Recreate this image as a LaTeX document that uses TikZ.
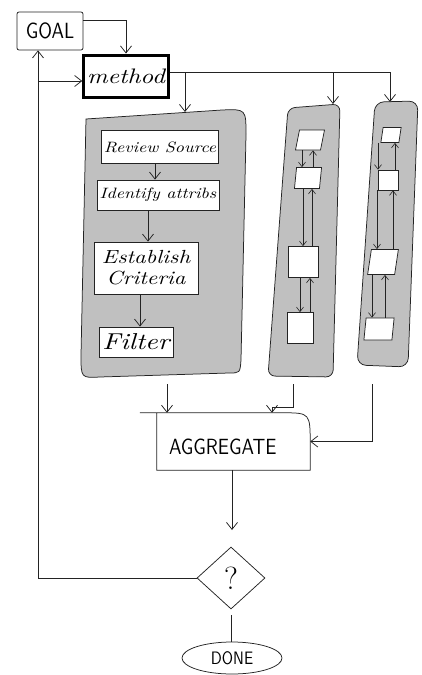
\documentclass[tikz,border=0pt]{standalone}
\usepackage{fontspec}
\usetikzlibrary{arrows.meta,shapes.geometric}
% a widened italic for the hand-lettered step names
\newfontfamily\handfont{lmroman10-italic.otf}[FakeStretch=1.2]
% narrow sans capitals for the block titles
\newfontfamily\capsfont{lmsans10-regular.otf}[FakeStretch=0.85]
\definecolor{panelgray}{RGB}{192,192,192}
\definecolor{ink}{RGB}{35,35,35}
\tikzset{
  ink line/.style={draw=ink, line width=0.75pt},
  arr/.style={ink line, -{Straight Barb[length=7pt,width=11pt]}},
  sarr/.style={ink line, line width=0.6pt, -{Straight Barb[length=4.5pt,width=7pt]}},
  panel/.style={ink line, fill=panelgray},
  task/.style={ink line, fill=white, inner sep=2pt, font=\handfont\fontsize{15}{17}\selectfont},
  cell/.style={ink line, fill=white, inner sep=0pt},
}
% a pair of opposite arrows between two stacked cells
\newcommand\twoway[4]{%
  \draw[sarr] (#1.south -| #3,0) -- (#2.north -| #3,0);
  \draw[sarr] (#2.north -| #4,0) -- (#1.south -| #4,0);}
\begin{document}
\begin{tikzpicture}[x=1pt,y=-1pt]
\useasboundingbox (0,0) rectangle (422,675);

% goal and method
\node[ink line, minimum width=66pt, minimum height=38pt, rounded corners=2pt,
      font=\capsfont\fontsize{22}{24}\selectfont] (goal) at (50,31) {GOAL};
\node[draw=black, line width=3pt, minimum width=84pt, minimum height=42pt,
      font=\handfont\fontsize{21}{24}\selectfont] (method) at (126,76) {method};

% the three gray panels
\path[panel] (86,119) -- (222,110) .. controls (246,109) .. (246,135)
  -- (241,360) .. controls (240,373) .. (229,373) -- (100,377)
  .. controls (81,378) .. (81,355) -- cycle;
\path[panel, rounded corners=7pt] (288,108) -- (340,104) -- (333,377) -- (268,376) -- cycle;
\path[panel, rounded corners=9pt] (375,102) -- (418,101) -- (408,367) -- (357,365) -- cycle;

\coordinate (bigtop) at (185,112);
\coordinate (midtop) at (333,104);
\coordinate (rghttop) at (390,102);
\coordinate (bigout) at (167,384);
\coordinate (midout) at (293,384);
\coordinate (rghtout) at (372,384);

% steps in the large panel
\node[task, minimum width=116pt, minimum height=33pt] (review) at (160,147) {Review Source};
\node[task, minimum width=122pt, minimum height=30pt] (identify) at (158,195) {Identify attribs};
\node[task, minimum width=104pt, minimum height=52pt, align=center,
      font=\handfont\fontsize{19}{21}\selectfont] (establish) at (146,268) {Establish\\Criteria};
\node[task, minimum width=74pt, minimum height=30pt,
      font=\handfont\fontsize{23}{25}\selectfont] (filter) at (136,342) {Filter};

\draw[arr] (review.south -| 155,0) -- (identify.north -| 155,0);
\draw[arr] (identify.south -| 148,0) -- (establish.north -| 148,0);
\draw[arr] (establish.south -| 140,0) -- (filter.north -| 140,0);

% cells in the middle panel
\node[cell, minimum width=25pt, minimum height=20pt, xslant=0.2] (m1) at (310,140) {};
\node[cell, minimum width=25pt, minimum height=21pt, xslant=0.1] (m2) at (308,178) {};
\node[cell, minimum width=30pt, minimum height=31pt] (m3) at (303,262) {};
\node[cell, minimum width=26pt, minimum height=31pt] (m4) at (300,328) {};
\twoway{m1}{m2}{302}{313}
\twoway{m2}{m3}{303}{312}
\twoway{m3}{m4}{300}{310}

% cells in the right panel
\node[cell, minimum width=18pt, minimum height=15pt, xslant=0.15] (r1) at (391,135) {};
\node[cell, minimum width=20pt, minimum height=20pt] (r2) at (388,180) {};
\node[cell, minimum width=27pt, minimum height=25pt, xslant=0.15] (r3) at (383,262) {};
\node[cell, minimum width=28pt, minimum height=22pt, xslant=0.1] (r4) at (379,329) {};
\twoway{r1}{r2}{378}{395}
\twoway{r2}{r3}{377}{393}
\twoway{r3}{r4}{372}{385}

% aggregate: label set to the left of the box
\node[minimum width=153pt, minimum height=57pt, inner xsep=12pt, inner ysep=0pt,
      text width=129pt, align=left, text height=26pt, text depth=0pt,
      font=\capsfont\fontsize{22}{24}\selectfont] (agg) at (233.5,441.5) {AGGREGATE};
\draw[ink line] ([xshift=-17pt]agg.north west) -- ([xshift=-28pt]agg.north east)
  .. controls (agg.north east) .. ([yshift=-32pt]agg.north east)
  -- (agg.south east) -- (agg.south west) -- (agg.north west);

% decision and end
\node[diamond, ink line, minimum width=68pt, minimum height=62pt, inner sep=0pt,
      font=\fontsize{32}{34}\selectfont] (q) at (231,578) {?};
\node[ellipse, ink line, minimum width=100pt, minimum height=32pt,
      font=\capsfont\fontsize{18}{20}\selectfont] (done) at (232,658) {DONE};

% connectors
\coordinate (gout) at ([yshift=11pt]goal.east);
\draw[arr] (gout) -| (method.north);

\coordinate (mout) at ([yshift=4pt]method.east);
\draw[arr] (mout) -| (rghttop);
\draw[arr] (mout -| midtop) -- (midtop);
\draw[arr] (mout -| bigtop) -- (bigtop);

\draw[arr] (bigout) -- (bigout |- agg.north);
\coordinate (midbend) at (293,407);
\draw[arr] (midout) -- (midbend) -| (agg.north -| 272,0);
\draw[arr] (rghtout) |- (agg.east);

\coordinate (qin) at (232,530);
\draw[arr] (agg.south -| qin) -- (qin);
\coordinate (qout) at (231,615);
\draw[ink line] (qout) -- (qout |- done.north);

\coordinate (lc) at (38,570);
\coordinate (min) at ([yshift=-5pt]method.west);
\draw[arr] (q.west) -- (q.west -| lc) -- (lc |- goal.south);
\draw[arr] (lc |- min) -- (min);
\end{tikzpicture}
\end{document}
